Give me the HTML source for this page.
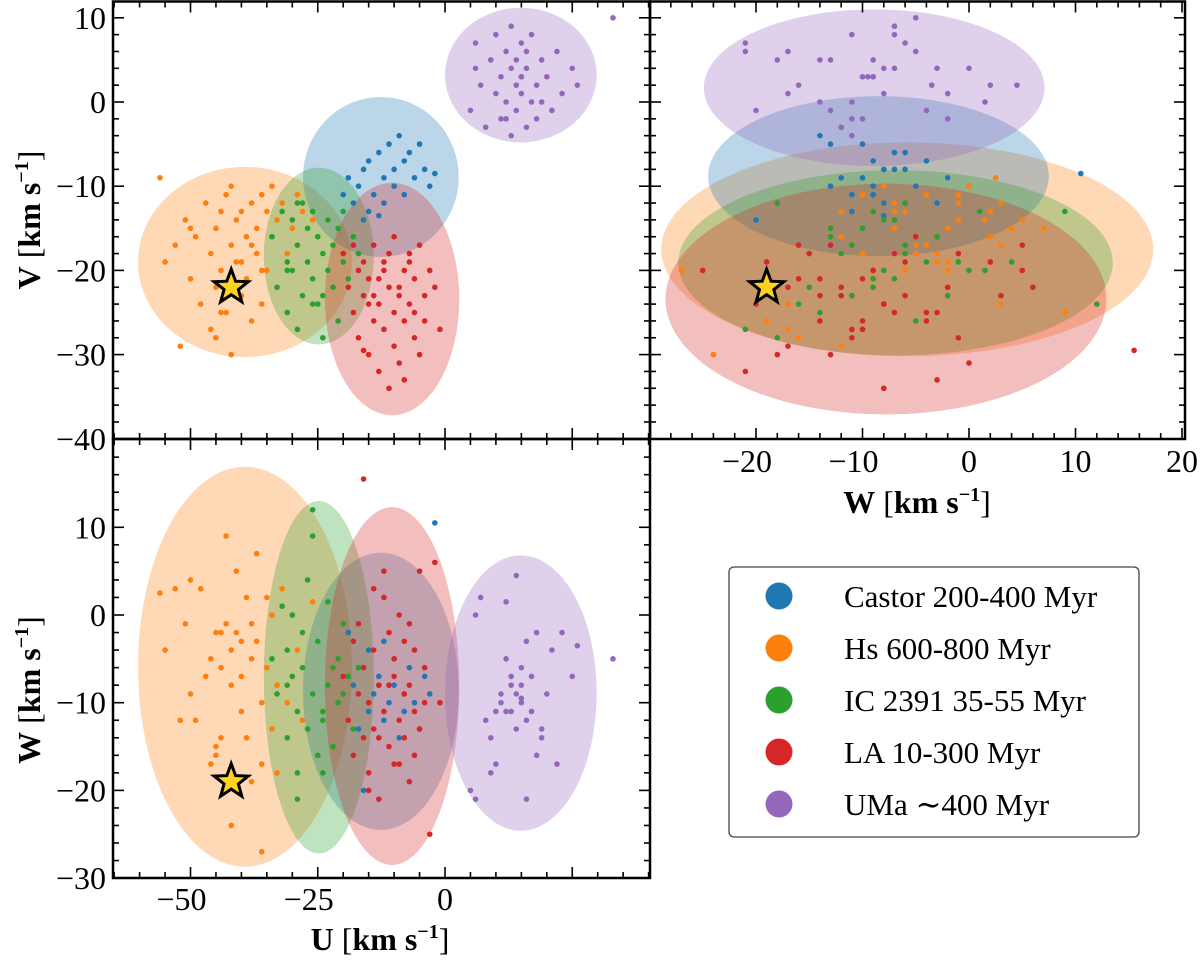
<!DOCTYPE html>
<html><head><meta charset="utf-8"><style>
html,body{margin:0;padding:0;background:#fff;}
svg{display:block;font-family:"Liberation Serif","DejaVu Serif",serif;}
</style></head><body>
<svg id="chart" width="1200" height="962" viewBox="0 0 1200 962" xmlns="http://www.w3.org/2000/svg">
<g id="layer-ell"></g><g id="layer-pts"></g><g id="layer-axes"></g>
<g>
<rect x="729" y="567" width="410" height="270" rx="5" fill="#fff" stroke="#444" stroke-width="1.3"/>
<circle cx="779" cy="596" r="13.5" fill="#1f77b4"/>
<text x="844" y="607" font-size="31">Castor 200-400 Myr</text>
<circle cx="779" cy="648" r="13.5" fill="#ff7f0e"/>
<text x="844" y="659" font-size="31">Hs 600-800 Myr</text>
<circle cx="779" cy="700" r="13.5" fill="#2ca02c"/>
<text x="844" y="711" font-size="31">IC 2391 35-55 Myr</text>
<circle cx="779" cy="752" r="13.5" fill="#d62728"/>
<text x="844" y="763" font-size="31">LA 10-300 Myr</text>
<circle cx="779" cy="804" r="13.5" fill="#9467bd"/>
<text x="844" y="815" font-size="31">UMa ∼400 Myr</text>
</g>
<text transform="translate(40,220) rotate(-90)" text-anchor="middle" font-size="32"><tspan font-weight="bold">V</tspan> [<tspan font-weight="bold">km s</tspan><tspan font-size="20" dy="-12" font-weight="bold">−1</tspan><tspan dy="12">]</tspan></text>
<text transform="translate(40,690) rotate(-90)" text-anchor="middle" font-size="32"><tspan font-weight="bold">W</tspan> [<tspan font-weight="bold">km s</tspan><tspan font-size="20" dy="-12" font-weight="bold">−1</tspan><tspan dy="12">]</tspan></text>
<text x="917" y="513" text-anchor="middle" font-size="32"><tspan font-weight="bold">W</tspan> [<tspan font-weight="bold">km s</tspan><tspan font-size="20" dy="-12" font-weight="bold">−1</tspan><tspan dy="12">]</tspan></text>
<text x="380" y="950" text-anchor="middle" font-size="32"><tspan font-weight="bold">U</tspan> [<tspan font-weight="bold">km s</tspan><tspan font-size="20" dy="-12" font-weight="bold">−1</tspan><tspan dy="12">]</tspan></text>
</svg>
<script>
const groupNames = ['hs','castor','ic2391','la','uma'];
const groupColors = ['#ff7f0e','#1f77b4','#2ca02c','#d62728','#9467bd'];
const hsU = [-56,-55,-53,-52,-51,-50,-49,-48,-47,-46,-46,-45,-45,-44,-44,-43,-43,-42,-42,-41,-41,-40,-40,-39,-39,-38,-38,-37,-37,-36,-36,-35,-35,-34,-34,-33,-33,-32,-31,-30,-29,-28,-26,-45,-42,-38,-50,-44,-40,-36];
const hsV = [-9,-19,-17,-29,-14,-21,-16,-24,-12,-18,-27,-15,-22,-13,-20,-25,-11,-17,-30,-14,-19,-23,-13,-16,-21,-12,-26,-15,-18,-11,-24,-13,-20,-16,-10,-22,-14,-12,-18,-15,-11,-13,-14,-28,-10,-17,-15,-25,-19,-20];
const hsW = [2.5,-4,3,-12,-1,-9,-12,3,-7,-5,-17,-2,-15,-6,-2,9,-1,-4,-24,5,-2,-11,-7,2,-14,-1,-19,7,-3,-10,-17,2,-6,-13,0,-18,-8,3,-10,-7,-4,-12,1.5,-16,-8,-5,4,-14,-3,-27];
const csU = [-20,-19,-18,-17,-16,-15,-15,-14,-13,-12,-12,-11,-10,-10,-9,-8,-8,-7,-6,-5,-4,-3,-2,-16,-13];
const csV = [-11,-9,-12,-10,-8,-13,-7,-11,-6,-9,-12,-5,-8,-10,-4,-7,-11,-6,-9,-5,-8,-10,-8.5,-14,-13.5];
const csW = [-9,-2,-8,-13,-6,-11,-4,-9,-7,-12,-3,-10,-8,-5,-14,-9,-11,-6,-10,-13,-7,-9,10.5,-20,-8];
const icU = [-34,-33,-32,-31,-31,-30,-30,-29,-29,-28,-28,-27,-27,-26,-26,-25,-25,-24,-24,-23,-23,-22,-22,-21,-21,-20,-20,-19,-18,-17,-26,-29,-24,-31];
const icV = [-16,-22,-13,-19,-25,-14,-20,-17,-27,-12,-23,-15,-19,-21,-13,-24,-16,-18,-28,-14,-20,-17,-22,-15,-26,-13,-19,-21,-16,-18,-24,-12,-23,-20];
const icW = [-5,-9,1,-4,-14,-7,0,-11,-21,-6,-2,-13,4,-9,9,-16,-3,-12,-18,-8,1.5,-6,-15,-10,-5,-9,-1,-7,-13,-6,12,-18,-11,-8];
const laU = [-20,-19,-18,-18,-17,-17,-16,-16,-15,-15,-14,-14,-13,-13,-12,-12,-11,-11,-10,-10,-10,-9,-9,-8,-8,-8,-7,-7,-6,-6,-5,-5,-4,-4,-3,-2,-1,-15,-12,-9,-6,-13,-11,-7,-16,-14];
const laV = [-18,-22,-25,-17,-20,-28,-23,-19,-30,-21,-26,-17,-24,-32,-20,-27,-22,-18,-25,-29,-16,-23,-31,-20,-26,-33,-19,-24,-28,-21,-17,-30,-23,-26,-20,-22,-27,-24,-19,-22,-25,-21,-34,-18,-29.5,-23];
const laW = [-7,-12,-3,-16,-9,-1,-14,-6,-18,-10,-4,-13,-8,-21,5,-11,-2,-15,-7,-17,-5,-12,0,-9,-14,-3,-19,-8,-11,-16,5,-13,-6,-10,-25,6,-10,-20,2,-17,-4,-14,-8,-1,15.5,3];
const umU = [5,6,6,7,8,9,10,10,11,11,12,12,13,13,13,14,14,14,15,15,15,16,16,16,17,17,18,18,19,20,21,22,23,25,26,12,15,9,19,33];
const umV = [-1,4,7,2,-3,5,1,8,-2,3,6,0,4,9,-4,2,5,-1,3,7,1,-3,4,6,0,8,2,-2,5,3,-1,6,1,4,2,-2,3,5,0,10];
const umW = [-20,0,-21,2,-12,-14,-17,-11,-10,-9,-5,1.5,-8,-7,-11,4.5,-9,-13,-10,-6,-8,-12,-3,-21,-11,-7,-16,-2,-13,-9,-4,-17,-2,-7,-3.5,-11,-9.5,-18,-14,-5];
const ellCenterU = [-39.3,-12.6,-24.8,-10.4,14.9];
const ellCenterV = [-19,-8.9,-18.3,-23.4,3.2];
const ellCenterW = [-5.9,-8.7,-7.1,-8.1,-8.9];
const ellRadU = [21,15.3,10.8,13.2,14.9];
const ellRadV = [11.3,9.5,10.5,13.8,8];
const ellRadW = [22.8,15.8,20.1,20.4,15.7];
const ellCenterW2 = [-5.8,-8.5,-6.9,-7.8,-8.9];
const ellRadW2 = [23.1,16,20.4,20.7,16];
const ellCenterV2 = [-17.5,-8.8,-19.1,-23.4,1.7];
const ellRadV2 = [12.7,9.5,11,13.7,9.3];
const starUVW = [-42,-22,-19];
const uTicks = [-50,-25,0];
const vTicks = [10,0,-10,-20,-30,-40];
const wTicksY = [10,0,-10,-20,-30];
const wTicksX = [-20,-10,0,10,20];

const NS='http://www.w3.org/2000/svg';
const xU=u=>445+u*5.09, yV=v=>102-v*8.42, xW=w=>969+w*10.65, yW=w=>615-w*8.77;
const P1={x0:113,x1:650,y0:1.5,y1:439}, P2={x0:650,x1:1185,y0:1.5,y1:439}, P3={x0:113,x1:650,y0:439,y1:878};
function mk(tag,attrs,parent){const e=document.createElementNS(NS,tag);for(const k in attrs)e.setAttribute(k,attrs[k]);parent.appendChild(e);return e;}
const LE=document.getElementById('layer-ell'),LP=document.getElementById('layer-pts'),LA=document.getElementById('layer-axes');
const defs=mk('defs',{},document.getElementById('chart'));
[[P1,'c1'],[P2,'c2'],[P3,'c3']].forEach(([p,id])=>{const c=mk('clipPath',{id:id},defs);mk('rect',{x:p.x0,y:p.y0,width:p.x1-p.x0,height:p.y1-p.y0},c);});
const g1=mk('g',{'clip-path':'url(#c1)'},LE),g2=mk('g',{'clip-path':'url(#c2)'},LE),g3=mk('g',{'clip-path':'url(#c3)'},LE);
const allU=[hsU,csU,icU,laU,umU],allV=[hsV,csV,icV,laV,umV],allW=[hsW,csW,icW,laW,umW];
for(let i=0;i<5;i++){
  let e=mk('ellipse',{cx:xU(ellCenterU[i]),cy:yV(ellCenterV[i]),rx:ellRadU[i]*5.09,ry:ellRadV[i]*8.42,fill:groupColors[i],'fill-opacity':0.3},g1);
  
  
  e=mk('ellipse',{cx:xW(ellCenterW2[i]),cy:yV(ellCenterV2[i]),rx:ellRadW2[i]*10.65,ry:ellRadV2[i]*8.42,fill:groupColors[i],'fill-opacity':0.3},g2);
  
  
  e=mk('ellipse',{cx:xU(ellCenterU[i]),cy:yW(ellCenterW[i]),rx:ellRadU[i]*5.09,ry:ellRadW[i]*8.77,fill:groupColors[i],'fill-opacity':0.3},g3);
  
  
}
for(let i=0;i<5;i++){
  const U=allU[i],V=allV[i],W=allW[i];
  for(let j=0;j<U.length;j++){
    let c=mk('circle',{cx:xU(U[j]),cy:yV(V[j]),r:2.8,fill:groupColors[i]},LP);
    
    
    c=mk('circle',{cx:xW(W[j]),cy:yV(V[j]),r:2.8,fill:groupColors[i]},LP);
    
    
    c=mk('circle',{cx:xU(U[j]),cy:yW(W[j]),r:2.8,fill:groupColors[i]},LP);
    
    
  }
}
function star(cx,cy,name){let p='';for(let k=0;k<10;k++){const r=k%2?7.5:18,a=-Math.PI/2+k*Math.PI/5;p+=(k?'L':'M')+(cx+r*Math.cos(a)).toFixed(1)+','+(cy+r*Math.sin(a)).toFixed(1);}
  const s=mk('path',{d:p+'Z',fill:'#ffd21f',stroke:'#000','stroke-width':3,'stroke-linejoin':'miter'},LP);
  
  }
star(xU(starUVW[0]),yV(starUVW[1]),'star-uv');
star(xW(starUVW[2]),yV(starUVW[1]),'star-wv');
star(xU(starUVW[0]),yW(starUVW[2]),'star-uw');
function frame(p,name){const r=mk('rect',{x:p.x0,y:p.y0,width:p.x1-p.x0,height:p.y1-p.y0,fill:'none',stroke:'#000','stroke-width':2.5},LA);
  
  }
function tick(x1,y1,x2,y2){mk('line',{x1,y1,x2,y2,stroke:'#000','stroke-width':1.6},LA);}
function xTicks(p,f,lo,hi,maj,min){for(let v=lo;v<=hi+1e-6;v+=min){const x=f(v);if(x<p.x0+1||x>p.x1-1)continue;const big=Math.abs(v/maj-Math.round(v/maj))<1e-6;const L=big?11:6;tick(x,p.y1,x,p.y1-L);tick(x,p.y0,x,p.y0+L);}}
function yTicks(p,f,lo,hi,maj,min){for(let v=lo;v<=hi+1e-6;v+=min){const y=f(v);if(y<p.y0+1||y>p.y1-1)continue;const big=Math.abs(v/maj-Math.round(v/maj))<1e-6;const L=big?11:6;tick(p.x0,y,p.x0+L,y);tick(p.x1,y,p.x1-L,y);}}
xTicks(P1,xU,-65,40,25,5);yTicks(P1,yV,-40,12,10,2);
xTicks(P2,xW,-30,20,10,2);yTicks(P2,yV,-40,12,10,2);
xTicks(P3,xU,-65,40,25,5);yTicks(P3,yW,-30,20,10,2);
frame(P1,'panel-uv');frame(P2,'panel-wv');frame(P3,'panel-uw');
function lab(x,y,v,anchor,name){const t=mk('text',{x,y,'text-anchor':anchor,'font-size':32},LA);t.textContent=(v<0?'−':'')+Math.abs(v);
  
  }
vTicks.forEach(v=>lab(106,yV(v)+11,v,'end','v-tick-label'));
wTicksY.forEach(v=>lab(106,yW(v)+11,v,'end','w-tick-label'));
uTicks.forEach(v=>lab(xU(v)-(v<0?9:0),910,v,'middle','u-tick-label'));
wTicksX.forEach(v=>lab(xW(v)-(v<0?9:0),472,v,'middle','w-x-tick-label'));
</script>
</body></html>
